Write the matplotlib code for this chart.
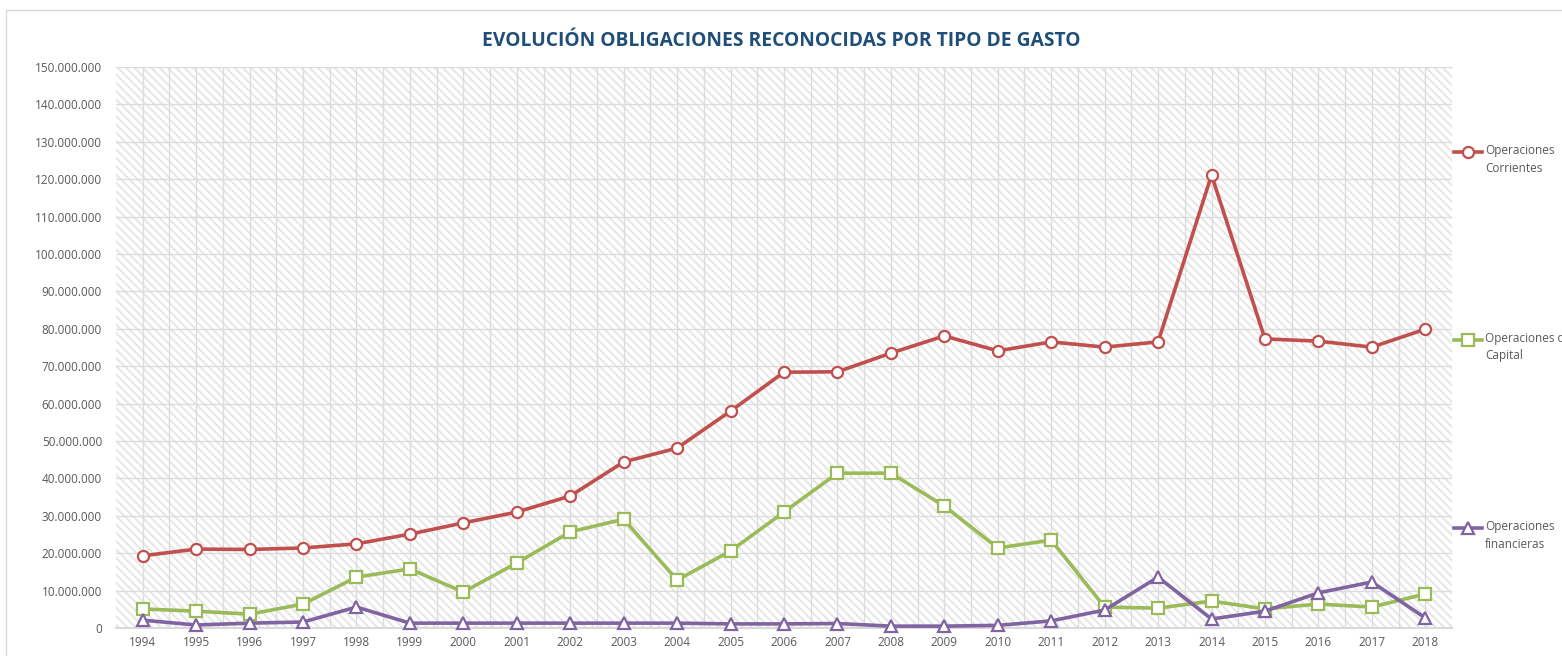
import matplotlib
matplotlib.use("Agg")
import matplotlib.pyplot as plt
from matplotlib.lines import Line2D
from matplotlib.patches import Rectangle
from matplotlib.ticker import FuncFormatter, MultipleLocator

years = [str(y) for y in range(1994, 2019)]
corrientes = [19.3, 21.1, 21.0, 21.4, 22.5, 25.1, 28.1, 31.0, 35.3, 44.4, 48.1, 58.0, 68.4, 68.5,
              73.5, 78.1, 74.1, 76.5, 75.1, 76.5, 121.1, 77.3, 76.7, 75.1, 79.9]
capital = [5.1, 4.5, 3.7, 6.4, 13.6, 15.8, 9.6, 17.4, 25.7, 29.1, 12.8, 20.6, 31.0, 41.4,
           41.4, 32.6, 21.4, 23.5, 5.6, 5.3, 7.2, 5.1, 6.4, 5.6, 9.1]
financieras = [2.1, 0.8, 1.3, 1.6, 5.6, 1.3, 1.3, 1.3, 1.3, 1.3, 1.3, 1.1, 1.1, 1.2,
               0.5, 0.5, 0.7, 1.9, 4.8, 13.6, 2.4, 4.5, 9.4, 12.3, 2.7]
series_names = ["Operaciones\nCorrientes", "Operaciones de\nCapital", "Operaciones\nfinancieras"]
title = "EVOLUCIÓN OBLIGACIONES RECONOCIDAS POR TIPO DE GASTO"

colors = ["#C0504D", "#9BBB59", "#8064A2"]
markers = ["o", "s", "^"]
FONT = "Open Sans"
TXT = "#595959"
GRID = "#DCDCDC"

plt.rcParams["font.family"] = [FONT, "DejaVu Sans"]
plt.rcParams["hatch.color"] = "#E6E6E6"
plt.rcParams["hatch.linewidth"] = 1.4

W, H = 1562, 656
fig = plt.figure(figsize=(W / 100, H / 100), dpi=100)
fig.patch.set_facecolor("white")

# outer chart border
fig.add_artist(Rectangle((6 / W, -0.1), 1.2, (H - 10) / H + 0.1, transform=fig.transFigure,
                         fill=False, edgecolor="#D9D9D9", linewidth=1.0))

L, R, T, B = 116, 1452, 67, 628
ax = fig.add_axes([L / W, (H - B) / H, (R - L) / W, (B - T) / H])
ax.set_facecolor("white")
ax.add_patch(Rectangle((0, 0), 1, 1, transform=ax.transAxes, facecolor="white",
                       hatch="\\\\\\\\", edgecolor="#E6E6E6", linewidth=0, zorder=0))

x = list(range(len(years)))
scale = 1e6
data = [corrientes, capital, financieras]
for vals, c, m in zip(data, colors, markers):
    ax.plot(x, [v * scale for v in vals], color=c, linewidth=2.6, marker=m,
            markersize=8, markerfacecolor="white",
            markeredgecolor=c, markeredgewidth=1.6, zorder=3, clip_on=False)

ax.set_xlim(-0.5, len(years) - 0.5)
ax.set_ylim(0, 150e6)
ax.yaxis.set_major_locator(MultipleLocator(10e6))
ax.yaxis.set_major_formatter(FuncFormatter(lambda v, p: f"{int(round(v)):,}".replace(",", ".")))
ax.set_xticks(x)
ax.set_xticklabels(years)
ax.set_xticks([i + 0.5 for i in x[:-1]], minor=True)

ax.grid(True, which="major", axis="both", color=GRID, linewidth=1.0, zorder=1)
ax.grid(True, which="minor", axis="x", color=GRID, linewidth=1.0, zorder=1)
ax.set_axisbelow(True)
for s in ["top", "right", "left"]:
    ax.spines[s].set_visible(False)
ax.spines["bottom"].set_color("#D9D9D9")
ax.spines["bottom"].set_linewidth(1.5)
ax.tick_params(axis="both", which="both", length=0, labelsize=8.5, labelcolor=TXT)
ax.tick_params(axis="x", pad=6)
ax.tick_params(axis="y", pad=10)

fig.text(781 / W, 1 - 41 / H, title, ha="center", va="center", fontsize=13.9,
         fontweight="bold", color="#1F4E79")

# legend
leg_y = [152, 340, 528]
for name, c, m, yy in zip(series_names, colors, markers, leg_y):
    yf = 1 - yy / H
    fig.add_artist(Line2D([1454 / W, 1468 / W, 1482 / W], [yf, yf, yf], transform=fig.transFigure,
                          color=c, linewidth=2.6, marker=m, markevery=[1], markersize=8,
                          markerfacecolor="white", markeredgecolor=c, markeredgewidth=1.6))
    fig.text(1485 / W, yf + 8 / H, name, ha="left", va="top", fontsize=8.5, color=TXT,
             linespacing=1.45)

fig.savefig("out.png", dpi=100)
